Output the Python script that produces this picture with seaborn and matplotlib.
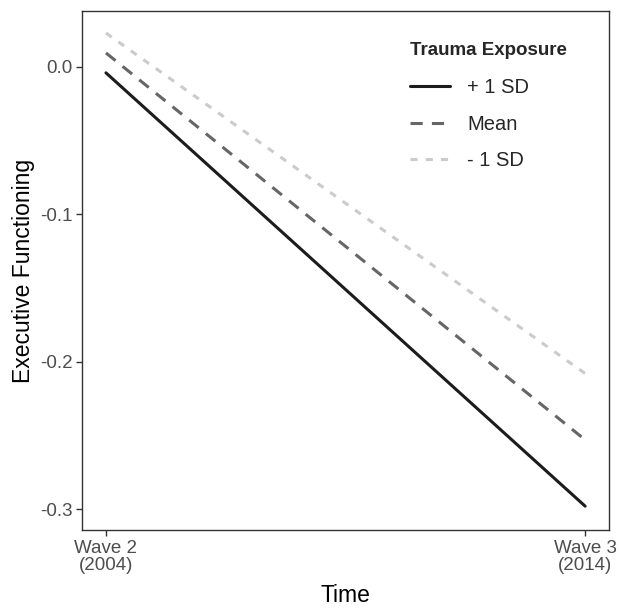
import numpy as np
import pandas as pd
import matplotlib
matplotlib.use("Agg")
import matplotlib.pyplot as plt
import seaborn as sns

# data
waves = [1, 2]
wave_labels = ["Wave 2\n(2004)", "Wave 3\n(2014)"]
groups = ["+ 1 SD", "Mean", "- 1 SD"]
plus_sd = [-0.004, -0.298]
mean_vals = [0.0095, -0.253]
minus_sd = [0.023, -0.208]

df = pd.DataFrame({
    "time": waves * 3,
    "ef": plus_sd + mean_vals + minus_sd,
    "group": [g for g in groups for _ in waves],
})

sns.set_theme(style="white")
plt.rcParams["font.family"] = ["Liberation Sans", "DejaVu Sans"]

fig = plt.figure(figsize=(6.19, 6.08), dpi=100)
ax = fig.add_axes([0.1325, 0.128, 0.8515, 0.854])

palette = {"+ 1 SD": "#1c1c1c", "Mean": "#666666", "- 1 SD": "#cbcbcb"}
dashes = {"+ 1 SD": "", "Mean": (4, 3), "- 1 SD": (2.3, 2.7)}
sns.lineplot(data=df, x="time", y="ef", hue="group", style="group",
             hue_order=groups, style_order=groups,
             palette=palette, dashes=dashes, linewidth=2.2, ax=ax)

ax.set_xlim(0.95, 2.05)
ax.set_ylim(-0.3143, 0.038)
ax.set_xticks(waves)
ax.set_xticklabels(wave_labels, linespacing=1.0)
ax.set_yticks([0.0, -0.1, -0.2, -0.3])
ax.set_yticklabels(["0.0", "-0.1", "-0.2", "-0.3"])
ax.tick_params(axis="both", which="both", length=4, width=1, color="#333333",
               labelsize=13.5, labelcolor="#4d4d4d", left=True, bottom=True, pad=3)
for s in ax.spines.values():
    s.set_color("#333333")
    s.set_linewidth(1)
ax.set_xlabel("Time", fontsize=16.5, color="black", labelpad=7.5)
ax.set_ylabel("Executive Functioning", fontsize=16.5, color="black", labelpad=3.5)

handles, labels = ax.get_legend_handles_labels()
leg = ax.legend(handles, labels, title="Trauma Exposure", loc="upper left",
                bbox_to_anchor=(0.587, 0.975), frameon=False, fontsize=14.5,
                title_fontproperties={"weight": "bold", "size": 13.5},
                handlelength=2.0, handletextpad=0.85, labelspacing=0.85)
leg._legend_box.align = "left"
leg._legend_box.sep = 14
for line in leg.get_lines():
    line.set_linewidth(2.2)

fig.savefig("out.png", dpi=100)
